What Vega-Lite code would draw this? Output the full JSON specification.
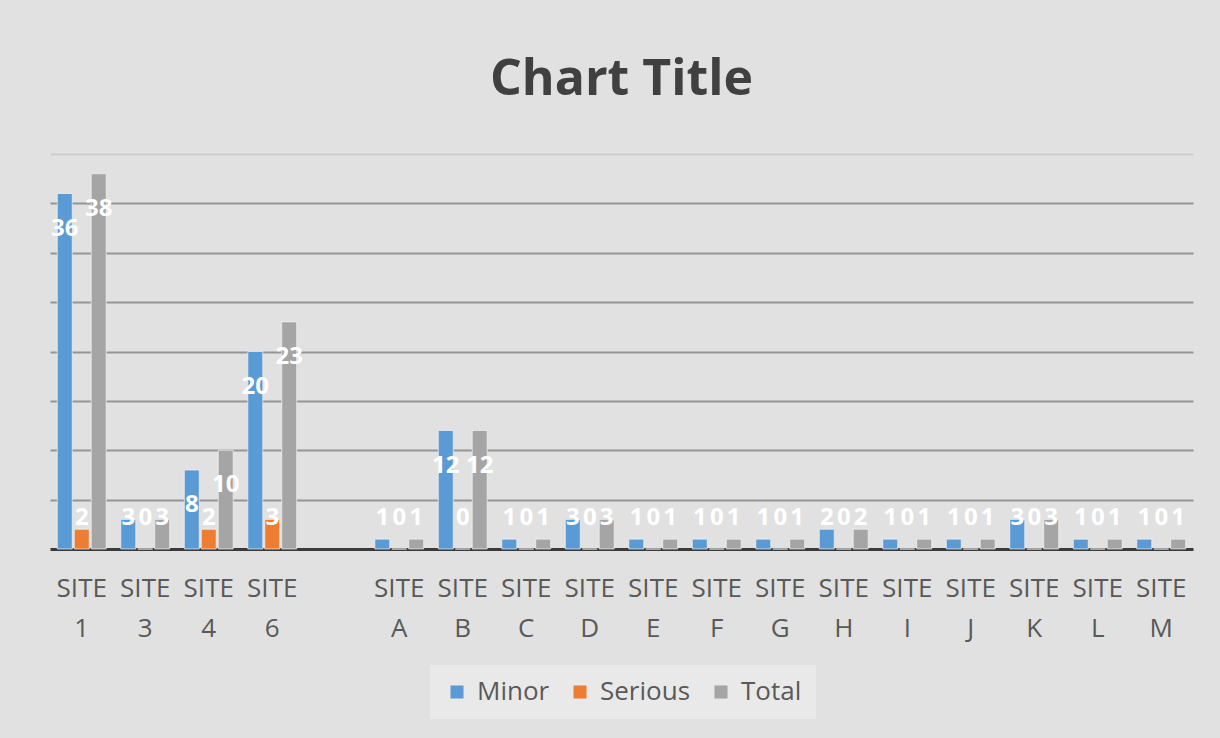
{
  "$schema": "https://vega.github.io/schema/vega-lite/v6.json",
  "width": 1143,
  "height": 395,
  "autosize": {"type": "none"},
  "padding": {"left": 50, "top": 154, "right": 27, "bottom": 189},
  "background": "#e1e1e1",
  "title": {"text": "Chart Title", "fontSize": 50, "font": "Open Sans", "fontWeight": "bold", "color": "#404040", "offset": 49, "anchor": "middle"},
  "config": {"view": {"stroke": null}, "font": "Open Sans"},
  "data": {"values": [
    {"Site": "SITE 1", "Series": "Minor", "Count": 36},
    {"Site": "SITE 1", "Series": "Serious", "Count": 2},
    {"Site": "SITE 1", "Series": "Total", "Count": 38},
    {"Site": "SITE 3", "Series": "Minor", "Count": 3},
    {"Site": "SITE 3", "Series": "Serious", "Count": 0},
    {"Site": "SITE 3", "Series": "Total", "Count": 3},
    {"Site": "SITE 4", "Series": "Minor", "Count": 8},
    {"Site": "SITE 4", "Series": "Serious", "Count": 2},
    {"Site": "SITE 4", "Series": "Total", "Count": 10},
    {"Site": "SITE 6", "Series": "Minor", "Count": 20},
    {"Site": "SITE 6", "Series": "Serious", "Count": 3},
    {"Site": "SITE 6", "Series": "Total", "Count": 23},
    {"Site": "SITE A", "Series": "Minor", "Count": 1},
    {"Site": "SITE A", "Series": "Serious", "Count": 0},
    {"Site": "SITE A", "Series": "Total", "Count": 1},
    {"Site": "SITE B", "Series": "Minor", "Count": 12},
    {"Site": "SITE B", "Series": "Serious", "Count": 0},
    {"Site": "SITE B", "Series": "Total", "Count": 12},
    {"Site": "SITE C", "Series": "Minor", "Count": 1},
    {"Site": "SITE C", "Series": "Serious", "Count": 0},
    {"Site": "SITE C", "Series": "Total", "Count": 1},
    {"Site": "SITE D", "Series": "Minor", "Count": 3},
    {"Site": "SITE D", "Series": "Serious", "Count": 0},
    {"Site": "SITE D", "Series": "Total", "Count": 3},
    {"Site": "SITE E", "Series": "Minor", "Count": 1},
    {"Site": "SITE E", "Series": "Serious", "Count": 0},
    {"Site": "SITE E", "Series": "Total", "Count": 1},
    {"Site": "SITE F", "Series": "Minor", "Count": 1},
    {"Site": "SITE F", "Series": "Serious", "Count": 0},
    {"Site": "SITE F", "Series": "Total", "Count": 1},
    {"Site": "SITE G", "Series": "Minor", "Count": 1},
    {"Site": "SITE G", "Series": "Serious", "Count": 0},
    {"Site": "SITE G", "Series": "Total", "Count": 1},
    {"Site": "SITE H", "Series": "Minor", "Count": 2},
    {"Site": "SITE H", "Series": "Serious", "Count": 0},
    {"Site": "SITE H", "Series": "Total", "Count": 2},
    {"Site": "SITE I", "Series": "Minor", "Count": 1},
    {"Site": "SITE I", "Series": "Serious", "Count": 0},
    {"Site": "SITE I", "Series": "Total", "Count": 1},
    {"Site": "SITE J", "Series": "Minor", "Count": 1},
    {"Site": "SITE J", "Series": "Serious", "Count": 0},
    {"Site": "SITE J", "Series": "Total", "Count": 1},
    {"Site": "SITE K", "Series": "Minor", "Count": 3},
    {"Site": "SITE K", "Series": "Serious", "Count": 0},
    {"Site": "SITE K", "Series": "Total", "Count": 3},
    {"Site": "SITE L", "Series": "Minor", "Count": 1},
    {"Site": "SITE L", "Series": "Serious", "Count": 0},
    {"Site": "SITE L", "Series": "Total", "Count": 1},
    {"Site": "SITE M", "Series": "Minor", "Count": 1},
    {"Site": "SITE M", "Series": "Serious", "Count": 0},
    {"Site": "SITE M", "Series": "Total", "Count": 1}
  ]},
  "encoding": {
    "x": {
      "field": "Site", "type": "nominal",
      "scale": {"domain": ["SITE 1", "SITE 3", "SITE 4", "SITE 6", " ", "SITE A", "SITE B", "SITE C", "SITE D", "SITE E", "SITE F", "SITE G", "SITE H", "SITE I", "SITE J", "SITE K", "SITE L", "SITE M"], "paddingInner": 0.23, "paddingOuter": 0.115},
      "axis": {"title": null, "labelAngle": 0, "labelExpr": "split(datum.label, ' ')", "labelFontSize": 26, "labelColor": "#595959", "labelLineHeight": 40, "labelPadding": 26, "labelOverlap": false, "labelLimit": 200, "ticks": false, "domainColor": "#3a3a3a", "domainWidth": 3, "grid": false}
    },
    "xOffset": {"field": "Series", "type": "nominal", "scale": {"domain": ["Minor", "Serious", "Total"], "paddingInner": 0.118}}
  },
  "layer": [
    {
      "mark": {"type": "bar", "stroke": "#f4f4f4", "strokeWidth": 1, "strokeOpacity": 0.7},
      "encoding": {
        "y": {"field": "Count", "type": "quantitative", "scale": {"domain": [0, 40]},
          "axis": {"title": null, "labels": false, "ticks": false, "domain": false, "grid": true, "values": [5, 10, 15, 20, 25, 30, 35, 40], "gridColor": {"condition": {"test": "datum.value >= 40", "value": "#cdcdcd"}, "value": "#959595"}, "gridWidth": 2}},
        "color": {"field": "Series", "type": "nominal",
          "scale": {"domain": ["Minor", "Serious", "Total"], "range": ["#5B9BD5", "#ED7D31", "#A5A5A5"]},
          "legend": {"orient": "none", "legendX": 380, "legendY": 511, "direction": "horizontal", "title": null, "symbolType": "square", "symbolSize": 170, "symbolStrokeWidth": 0, "labelFontSize": 26, "labelColor": "#595959", "fillColor": "#e9e9e9", "padding": 14, "columnPadding": 17, "labelOffset": 7}}
      }
    },
    {
      "transform": [{"filter": "datum.Count > 3.5"}],
      "mark": {"type": "text", "dy": 35, "color": "white", "fontSize": 24, "fontWeight": "bold", "font": "Open Sans", "baseline": "middle"},
      "encoding": {
        "y": {"field": "Count", "type": "quantitative",
          "axis": {"title": null, "labels": false, "ticks": false, "domain": false, "grid": true, "values": [5, 10, 15, 20, 25, 30, 35, 40], "gridColor": {"condition": {"test": "datum.value >= 40", "value": "#cdcdcd"}, "value": "#959595"}, "gridWidth": 2}},
        "text": {"field": "Count", "type": "quantitative"}
      }
    },
    {
      "transform": [{"filter": "datum.Count <= 3.5"}],
      "mark": {"type": "text", "color": "white", "fontSize": 24, "fontWeight": "bold", "font": "Open Sans", "baseline": "middle"},
      "encoding": {
        "y": {"datum": 3.15, "type": "quantitative",
          "axis": {"title": null, "labels": false, "ticks": false, "domain": false, "grid": true, "values": [5, 10, 15, 20, 25, 30, 35, 40], "gridColor": {"condition": {"test": "datum.value >= 40", "value": "#cdcdcd"}, "value": "#959595"}, "gridWidth": 2}},
        "text": {"field": "Count", "type": "quantitative"}
      }
    }
  ]
}
